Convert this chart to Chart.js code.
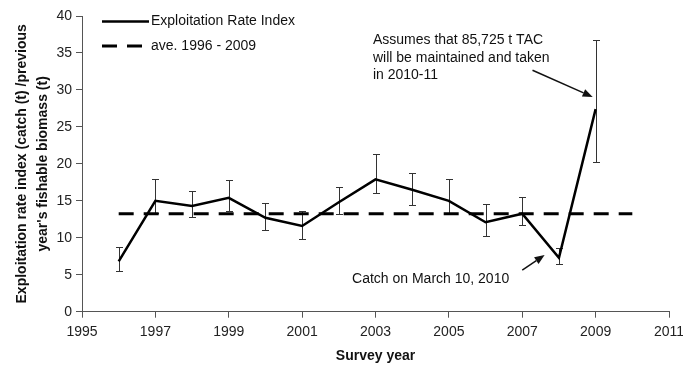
<!DOCTYPE html>
<html>
<head>
<meta charset="utf-8">
<script src="https://cdn.jsdelivr.net/npm/chart.js@4/dist/chart.umd.min.js"></script>
<style>
  html, body { margin: 0; padding: 0; background: #fff; }
  #wrap { width: 683px; height: 365px; }
</style>
</head>
<body>
<div id="wrap"><canvas id="c" width="683" height="365"></canvas></div>
<script>
// Survey years and exploitation rate index with its error range
const years = [1996, 1997, 1998, 1999, 2000, 2001, 2002, 2003, 2004, 2005, 2006, 2007, 2008, 2009];
const rateIndex = [6.8, 15.0, 14.3, 15.4, 12.7, 11.6, 14.8, 17.9, 16.5, 15.0, 12.1, 13.25, 7.3, 27.4];
const upperBound = [8.8, 17.9, 16.35, 17.8, 14.7, 13.65, 16.85, 21.4, 18.8, 17.9, 14.55, 15.5, 8.55, 36.8];
const lowerBound = [5.5, 13.3, 12.8, 13.65, 11.1, 9.8, 13.2, 16.0, 14.4, 13.3, 10.3, 11.7, 6.4, 20.2];

// Long-term average, drawn across 1996 - 2010
const averageSpan = [1996, 2010];
const averageValue = 13.25;

// Axis tick labels
const xTickValues = [1995, 1997, 1999, 2001, 2003, 2005, 2007, 2009, 2011];
const yTickValues = [0, 5, 10, 15, 20, 25, 30, 35, 40];

const FONT = '"Liberation Sans", Arial, sans-serif';
const AXIS_COLOR = '#555';

// Annotations, anchored in data units
const notes = [
  { lines: ['Assumes that 85,725 t TAC', 'will be maintained and taken', 'in 2010-11'], x: 2002.93, y: 36.7,
    arrow: { from: [2007.28, 32.66], to: [2008.92, 29.05] } },
  { lines: ['Catch on March 10, 2010'], x: 2002.36, y: 4.4,
    arrow: { from: [2007.0, 5.64], to: [2007.61, 7.66] } }
];

const errorBars = {
  id: 'errorBars',
  beforeDatasetsDraw(chart) {
    const { ctx, scales: { x, y } } = chart;
    ctx.save();
    ctx.strokeStyle = '#333';
    ctx.lineWidth = 1;
    const cap = 3.5;
    years.forEach((yr, i) => {
      const px = Math.round(x.getPixelForValue(yr)) + 0.5;
      const top = Math.round(y.getPixelForValue(upperBound[i])) + 0.5;
      const bot = Math.round(y.getPixelForValue(lowerBound[i])) + 0.5;
      ctx.beginPath();
      ctx.moveTo(px, top); ctx.lineTo(px, bot);
      ctx.moveTo(px - cap, top); ctx.lineTo(px + cap, top);
      ctx.moveTo(px - cap, bot); ctx.lineTo(px + cap, bot);
      ctx.stroke();
    });
    ctx.restore();
  }
};

function drawArrow(ctx, x1, y1, x2, y2) {
  const ang = Math.atan2(y2 - y1, x2 - x1);
  const len = 10, half = 4;
  const bx = x2 - len * Math.cos(ang), by = y2 - len * Math.sin(ang);
  ctx.beginPath();
  ctx.moveTo(x1, y1); ctx.lineTo(bx, by);
  ctx.stroke();
  ctx.beginPath();
  ctx.moveTo(x2, y2);
  ctx.lineTo(bx + half * Math.sin(ang), by - half * Math.cos(ang));
  ctx.lineTo(bx - half * Math.sin(ang), by + half * Math.cos(ang));
  ctx.closePath();
  ctx.fill();
}

const notesAndLegend = {
  id: 'notesAndLegend',
  afterDraw(chart) {
    const { ctx, chartArea: a, scales: { x, y } } = chart;
    ctx.save();
    ctx.fillStyle = '#111';
    ctx.strokeStyle = '#111';
    ctx.font = '14px ' + FONT;
    ctx.textBaseline = 'middle';
    ctx.textAlign = 'left';

    notes.forEach(n => {
      const tx = x.getPixelForValue(n.x), ty = y.getPixelForValue(n.y);
      n.lines.forEach((t, k) => ctx.fillText(t, tx, ty + k * 17.5));
      ctx.lineWidth = 1.5;
      drawArrow(ctx,
        x.getPixelForValue(n.arrow.from[0]), y.getPixelForValue(n.arrow.from[1]),
        x.getPixelForValue(n.arrow.to[0]), y.getPixelForValue(n.arrow.to[1]));
    });

    // legend
    const lx = a.left + 20, ly1 = a.top + 5.5, ly2 = a.top + 30;
    ctx.strokeStyle = '#000';
    ctx.lineWidth = 2.5;
    ctx.beginPath(); ctx.moveTo(lx, ly1); ctx.lineTo(lx + 47, ly1); ctx.stroke();
    ctx.lineWidth = 3;
    ctx.setLineDash([15, 10]);
    ctx.beginPath(); ctx.moveTo(lx, ly2); ctx.lineTo(lx + 40, ly2); ctx.stroke();
    ctx.setLineDash([]);
    ctx.fillText('Exploitation Rate Index', lx + 49, ly1);
    ctx.fillText('ave. 1996 - 2009', lx + 49, ly2);
    ctx.restore();
  }
};

new Chart(document.getElementById('c'), {
  type: 'line',
  data: {
    datasets: [
      {
        label: 'ave. 1996 - 2009',
        data: averageSpan.map(v => ({ x: v, y: averageValue })),
        borderColor: '#000',
        borderWidth: 3,
        borderDash: [15, 10],
        pointRadius: 0,
        fill: false
      },
      {
        label: 'Exploitation Rate Index',
        data: years.map((v, i) => ({ x: v, y: rateIndex[i] })),
        borderColor: '#000',
        borderWidth: 2.5,
        pointRadius: 0,
        tension: 0,
        fill: false
      }
    ]
  },
  options: {
    responsive: false,
    animation: false,
    devicePixelRatio: 1,
    layout: { padding: { top: 16, right: 14, left: 0, bottom: 0 } },
    plugins: { legend: { display: false }, tooltip: { enabled: false } },
    scales: {
      x: {
        type: 'linear',
        min: 1995, max: 2011,
        afterBuildTicks: s => { s.ticks = xTickValues.map(v => ({ value: v })); },
        afterFit: s => { s.height = 53.3; s.paddingLeft = 0; s.paddingRight = 0; },
        ticks: { callback: v => String(v), font: { family: FONT, size: 14 }, color: '#222', padding: 6, maxRotation: 0 },
        grid: { display: true, drawOnChartArea: false, drawTicks: true, tickLength: 6, color: AXIS_COLOR },
        border: { display: true, color: AXIS_COLOR, width: 1 },
        title: { display: true, text: 'Survey year', color: '#111',
                 font: { family: FONT, size: 14, weight: 'bold', lineHeight: 1.2 }, padding: { top: 0, bottom: 0 } }
      },
      y: {
        min: 0, max: 40,
        afterBuildTicks: s => { s.ticks = yTickValues.map(v => ({ value: v })); },
        afterFit: s => { s.width = 82; },
        ticks: { callback: v => String(v), font: { family: FONT, size: 14 }, color: '#222', padding: 4 },
        grid: { display: true, drawOnChartArea: false, drawTicks: true, tickLength: 6, color: AXIS_COLOR },
        border: { display: true, color: AXIS_COLOR, width: 1 },
        title: { display: true,
                 text: ['Exploitation rate index (catch (t) /previous', "year's fishable biomass (t)"],
                 color: '#111',
                 font: { family: FONT, size: 14, weight: 'bold', lineHeight: 1.46 }, padding: { top: 12.3, bottom: 0 } }
      }
    }
  },
  plugins: [errorBars, notesAndLegend]
});
</script>
</body>
</html>
